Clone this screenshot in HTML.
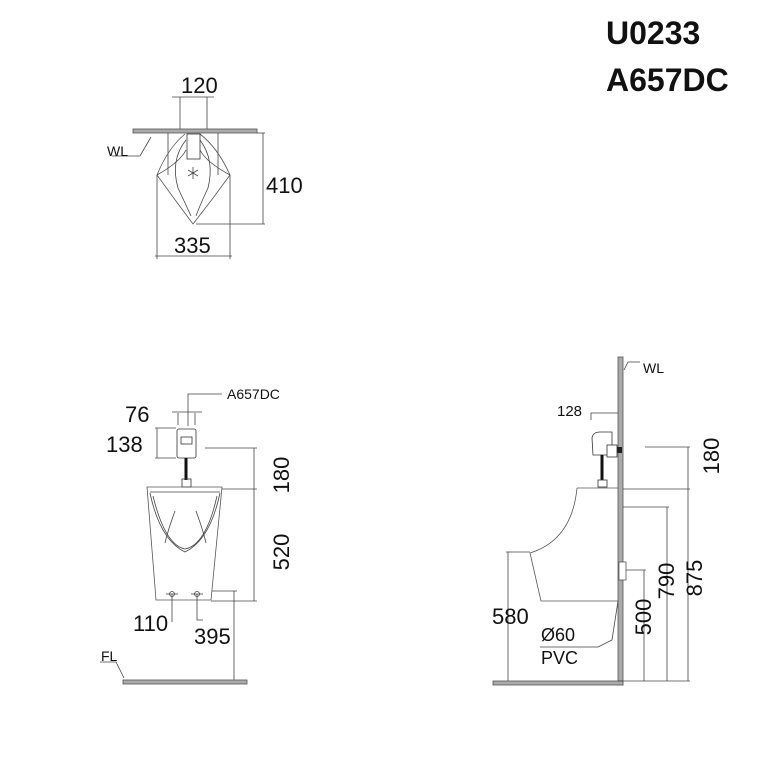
<!DOCTYPE html>
<html><head><meta charset="utf-8"><style>
html,body{margin:0;padding:0;background:#fff}
svg{display:block}
text{font-family:"Liberation Sans",sans-serif;fill:#111}
</style></head><body>
<svg width="768" height="766" viewBox="0 0 768 766" xmlns="http://www.w3.org/2000/svg">
<text x="606" y="44" font-size="32" font-weight="bold">U0233</text>
<text x="606" y="91" font-size="32" font-weight="bold">A657DC</text>

<!-- TOP VIEW -->
<g stroke="#444" fill="none" stroke-width="0.8">
<rect x="133" y="129" width="124" height="4" fill="#aaa" stroke="#555"/>
<line x1="180" y1="97" x2="180" y2="129"/><line x1="207" y1="97" x2="207" y2="129"/>
<line x1="172" y1="97" x2="214" y2="97"/>
<line x1="168" y1="133" x2="168" y2="175"/><line x1="218" y1="133" x2="218" y2="175"/>
<path d="M185 134 Q168 148 157 175 Q175 200 193 224 Q212 200 230 175 Q218 148 200 134" stroke="#555"/>
<path d="M186 140 Q170 160 178 188 Q186 205 191 216 M200 140 Q215 160 208 188 Q200 205 196 216"/>
<path d="M157 175 Q180 162 186 150 M230 175 Q206 162 200 150"/>
<rect x="187" y="134" width="13" height="25" fill="#fff" stroke="#333"/>
<path d="M193 167 v12 M188 170 l10 6 M198 170 l-10 6"/>
<line x1="157" y1="175" x2="157" y2="259"/><line x1="230" y1="175" x2="230" y2="259"/>
<line x1="155" y1="256" x2="232" y2="256"/>
<line x1="257" y1="133" x2="265" y2="133"/><line x1="196" y1="224" x2="265" y2="224"/>
<line x1="263" y1="133" x2="263" y2="224"/>
<path d="M151 137 L140 156 L112 156"/>
</g>
<text x="181" y="93" font-size="22">120</text>
<text x="266" y="193" font-size="22">410</text>
<text x="174" y="253" font-size="22">335</text>
<text x="107" y="156" font-size="14">WL</text>

<!-- FRONT VIEW -->
<g stroke="#444" fill="none" stroke-width="0.8">
<path d="M188 426 V394 H222"/>
<line x1="178" y1="413" x2="178" y2="425"/><line x1="195" y1="413" x2="195" y2="425"/>
<line x1="172" y1="412" x2="202" y2="412"/>
<line x1="155" y1="428" x2="176" y2="428"/><line x1="155" y1="458" x2="176" y2="458"/>
<line x1="157" y1="428" x2="157" y2="458"/>
<rect x="177" y="429" width="19" height="29" rx="2" fill="#fff" stroke="#333"/>
<rect x="181" y="437" width="11" height="7" stroke="#333"/>
<line x1="186" y1="458" x2="186" y2="480" stroke="#111" stroke-width="3"/>
<rect x="182" y="479" width="9" height="8" stroke="#333"/>
<path d="M147 487 H222 L211 600 H156 Z" stroke="#555"/>
<path d="M150 492 H220"/>
<path d="M150 493 Q160 540 185 552 Q210 540 220 493"/>
<path d="M153 496 Q165 545 185 549 Q206 545 217 496"/>
<path d="M175 511 Q168 530 165 543 M196 511 Q203 530 206 543"/>
<circle cx="172" cy="594" r="2.5"/><circle cx="197" cy="594" r="2.5"/>
<line x1="166" y1="594" x2="178" y2="594"/><line x1="191" y1="594" x2="203" y2="594"/>
<line x1="172" y1="594" x2="172" y2="622"/><path d="M197 594 V620 H203"/>
<line x1="205" y1="448" x2="257" y2="448"/><line x1="222" y1="489" x2="257" y2="489"/>
<line x1="211" y1="601" x2="257" y2="601"/>
<line x1="254" y1="448" x2="254" y2="601"/>
<line x1="212" y1="591" x2="237" y2="591"/><line x1="234" y1="591" x2="234" y2="682"/>
<rect x="123" y="680" width="124" height="4" fill="#aaa" stroke="#555"/>
<path d="M100 662 L116 662 L124 678"/>
</g>
<text x="227" y="399" font-size="14">A657DC</text>
<text x="125" y="422" font-size="22">76</text>
<text x="106" y="452" font-size="22">138</text>
<text x="133" y="631" font-size="22">110</text>
<text x="194" y="644" font-size="22">395</text>
<text x="101" y="661" font-size="14">FL</text>
<text transform="translate(289,475) rotate(-90)" font-size="22" text-anchor="middle">180</text>
<text transform="translate(289,552) rotate(-90)" font-size="22" text-anchor="middle">520</text>

<!-- SIDE VIEW -->
<g stroke="#444" fill="none" stroke-width="0.8">
<rect x="618" y="357" width="5" height="328" fill="#aaa" stroke="#555"/>
<rect x="493" y="681" width="130" height="4" fill="#aaa" stroke="#555"/>
<path d="M624 370 L628 362 H640"/>
<path d="M591 420 V413 H618"/>
<path d="M592 438 Q593 432 600 432 H612 V455 H593 Z" fill="#fff" stroke="#333"/>
<rect x="607" y="445" width="10" height="12" fill="#fff" stroke="#333"/>
<rect x="617" y="447" width="5" height="6" fill="#222" stroke="none"/>
<line x1="602" y1="455" x2="602" y2="480" stroke="#111" stroke-width="3"/>
<rect x="598" y="480" width="9" height="7" stroke="#333"/>
<path d="M577 488 H618 M577 488 Q572 540 530 553 L541 601 H618" stroke="#555"/>
<path d="M618 601 L612 640 L598 647 H540"/>
<rect x="619" y="562" width="7" height="18" fill="#fff" stroke="#555"/>
<line x1="645" y1="447" x2="690" y2="447"/><line x1="623" y1="489" x2="690" y2="489"/>
<line x1="688" y1="447" x2="688" y2="681"/>
<line x1="623" y1="507" x2="669" y2="507"/><line x1="667" y1="507" x2="667" y2="681"/>
<line x1="626" y1="570" x2="646" y2="570"/><line x1="644" y1="570" x2="644" y2="681"/>
<line x1="506" y1="552" x2="530" y2="552"/><line x1="508" y1="552" x2="508" y2="681"/>
<line x1="618" y1="681" x2="690" y2="681"/>
</g>
<text x="643" y="373" font-size="14">WL</text>
<text x="557" y="416" font-size="15">128</text>
<text x="492" y="624" font-size="22">580</text>
<text x="541" y="641" font-size="18">Ø60</text>
<text x="541" y="664" font-size="18">PVC</text>
<text transform="translate(719,456) rotate(-90)" font-size="22" text-anchor="middle">180</text>
<text transform="translate(702,578) rotate(-90)" font-size="22" text-anchor="middle">875</text>
<text transform="translate(674,581) rotate(-90)" font-size="22" text-anchor="middle">790</text>
<text transform="translate(651,617) rotate(-90)" font-size="22" text-anchor="middle">500</text>
</svg>
</body></html>
